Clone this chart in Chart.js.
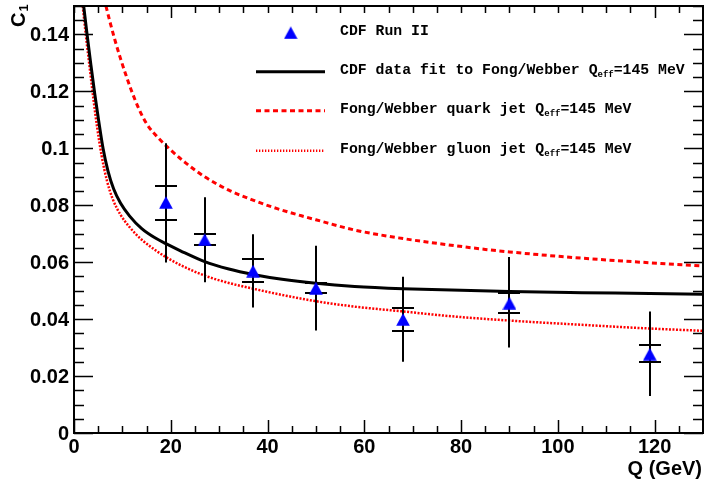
<!DOCTYPE html>
<html><head><meta charset="utf-8">
<script src="https://cdn.jsdelivr.net/npm/chart.js@4/dist/chart.umd.min.js"></script>
<style>html,body{margin:0;padding:0;background:#fff}#wrap{width:704px;height:485px}</style>
</head><body><div id="wrap"><canvas id="c" width="704" height="485"></canvas></div>
<script>
// ---- data ----
const Q      = [19, 27, 37, 50, 68, 90, 119];
const C1     = [0.0810, 0.0679, 0.0569, 0.0509, 0.0399, 0.0456, 0.0277];
const statLo = [0.0749, 0.0659, 0.0529, 0.0492, 0.0360, 0.0420, 0.0249];
const statHi = [0.0869, 0.0699, 0.0610, 0.0526, 0.0440, 0.0492, 0.0308];
const totLo  = [0.0599, 0.0530, 0.0441, 0.0360, 0.0250, 0.0300, 0.0130];
const totHi  = [0.1018, 0.0828, 0.0698, 0.0658, 0.0549, 0.0618, 0.0427];

const fitQ = [2.0, 2.7, 3.5, 4.3, 5.1, 6.0, 7.0, 8.2, 9.6, 11.5, 14, 17, 19, 22, 27, 32, 37, 43, 50, 58, 68, 78, 90, 105, 119, 130];
const fitC = [0.150, 0.140, 0.1292, 0.1190, 0.1097, 0.1000, 0.0922, 0.0857, 0.0808, 0.0762, 0.0718, 0.0683, 0.0665, 0.0640, 0.0602, 0.0576, 0.0557, 0.0540, 0.0526, 0.0515, 0.0507, 0.0502, 0.0497, 0.0493, 0.0490, 0.0487];

const quarkQ = [6.6, 7.5, 8.5, 9.6, 10.7, 11.8, 13.4, 15.1, 17.5, 19.6, 23, 27, 32, 37, 42, 47, 50, 58, 68, 76, 85, 90, 105, 119, 130];
const quarkC = [0.150, 0.1440, 0.1378, 0.1316, 0.1259, 0.1206, 0.1139, 0.1084, 0.1035, 0.1000, 0.0950, 0.0900, 0.0853, 0.0818, 0.0788, 0.0763, 0.0749, 0.0713, 0.0683, 0.0664, 0.0645, 0.0636, 0.0614, 0.0598, 0.0587];

const gluonQ = [1.8, 2.5, 3.3, 4.0, 4.8, 5.7, 6.8, 8.0, 9.6, 11.5, 14, 17, 19, 22, 27, 32, 37, 43, 50, 58, 68, 78, 90, 105, 119, 130];
const gluonC = [0.150, 0.139, 0.1275, 0.1175, 0.1072, 0.0975, 0.0887, 0.0822, 0.0767, 0.0723, 0.0679, 0.0640, 0.0618, 0.0590, 0.0553, 0.0527, 0.0507, 0.0485, 0.0463, 0.0444, 0.0427, 0.0410, 0.0395, 0.0380, 0.0367, 0.0359];

const xTickLabels = ['0', '20', '40', '60', '80', '100', '120'];
const yTickLabels = ['0', '0.02', '0.04', '0.06', '0.08', '0.1', '0.12', '0.14'];
const xTitle = 'Q (GeV)';
const yTitle = ['C', '1'];
const legendLabels = [
  [['CDF Run II', 0]],
  [['CDF data fit to Fong/Webber Q', 0], ['eff', 1], ['=145 MeV', 0]],
  [['Fong/Webber quark jet Q', 0], ['eff', 1], ['=145 MeV', 0]],
  [['Fong/Webber gluon jet Q', 0], ['eff', 1], ['=145 MeV', 0]]
];

// ---- marker ----
const tri = document.createElement('canvas');
tri.width = 14; tri.height = 13;
(function(){ const t = tri.getContext('2d'); t.fillStyle = '#0000ff';
  t.beginPath(); t.moveTo(7, 0.3); t.lineTo(13.8, 12.7); t.lineTo(0.2, 12.7); t.closePath(); t.fill(); })();

const BLUE = '#0000ff', RED = '#ff0000';
const pts = (xs, ys) => xs.map((v, i) => ({x: v, y: ys[i]}));

const rootPlugin = {
  id: 'rootStyle',
  beforeDatasetDraw(chart, args) {
    if (args.index !== 0) return;
    const {ctx, scales: {x, y}} = chart;
    ctx.save(); ctx.strokeStyle = '#000'; ctx.lineWidth = 2;
    for (let i = 0; i < Q.length; i++) {
      const px = Math.round(x.getPixelForValue(Q[i]));
      ctx.beginPath(); ctx.moveTo(px, y.getPixelForValue(totLo[i])); ctx.lineTo(px, y.getPixelForValue(totHi[i])); ctx.stroke();
      for (const v of [statLo[i], statHi[i]]) {
        const py = Math.round(y.getPixelForValue(v));
        ctx.beginPath(); ctx.moveTo(px - 11, py); ctx.lineTo(px + 11, py); ctx.stroke();
      }
    }
    ctx.restore();
  },
  afterDraw(chart) {
    const {ctx, chartArea: a, scales: {x, y}} = chart;
    ctx.save();
    // frame
    ctx.strokeStyle = '#000'; ctx.lineWidth = 2;
    ctx.strokeRect(a.left, a.top, a.right - a.left, a.bottom - a.top);
    // y ticks (left + right)
    ctx.lineWidth = 1.5;
    for (let k = 0; k <= 30; k++) {
      const v = k * 0.005; const py = Math.round(y.getPixelForValue(v)) + 0.5;
      const L = (k % 4 === 0) ? 19 : 10;
      ctx.beginPath(); ctx.moveTo(a.left, py); ctx.lineTo(a.left + L, py);
      ctx.moveTo(a.right, py); ctx.lineTo(a.right - L, py); ctx.stroke();
    }
    // x ticks (bottom + top)
    for (let q = 0; q <= 130; q += 5) {
      const px = Math.round(x.getPixelForValue(q)) + 0.5;
      const Lb = (q % 20 === 0) ? 13 : 7;
      const Lt = (q === 20 || q === 120) ? 12 : 7;
      ctx.beginPath(); ctx.moveTo(px, a.bottom); ctx.lineTo(px, a.bottom - Lb);
      ctx.moveTo(px, a.top); ctx.lineTo(px, a.top + Lt); ctx.stroke();
    }
    // tick labels
    ctx.fillStyle = '#000';
    ctx.font = 'bold 20px "Liberation Sans", Arial, sans-serif';
    ctx.textAlign = 'right'; ctx.textBaseline = 'middle';
    yTickLabels.forEach((t, i) => ctx.fillText(t, a.left - 5, y.getPixelForValue(i * 0.02) + 1));
    ctx.textAlign = 'center';
    xTickLabels.forEach((t, i) => ctx.fillText(t, x.getPixelForValue(i * 20), a.bottom + 14));
    // axis titles
    ctx.textAlign = 'right';
    ctx.fillText(xTitle, 702, 469);
    ctx.save(); ctx.translate(25, 27); ctx.rotate(-Math.PI / 2);
    ctx.textAlign = 'left'; ctx.textBaseline = 'alphabetic';
    ctx.fillText(yTitle[0], 0, 0);
    const cw = ctx.measureText(yTitle[0]).width;
    ctx.font = 'bold 13px "Liberation Sans", Arial, sans-serif';
    ctx.fillText(yTitle[1], cw + 1, 3);
    ctx.restore();
    // legend
    const rows = [32.7, 71.7, 110.7, 150.7];
    ctx.drawImage(tri, 290.7 - 7, rows[0] - 6.5);
    ctx.lineWidth = 3; ctx.strokeStyle = '#000'; ctx.setLineDash([]);
    ctx.beginPath(); ctx.moveTo(256, rows[1]); ctx.lineTo(325, rows[1]); ctx.stroke();
    ctx.strokeStyle = RED; ctx.setLineDash([5, 3.5]);
    ctx.beginPath(); ctx.moveTo(256, rows[2]); ctx.lineTo(325, rows[2]); ctx.stroke();
    ctx.lineWidth = 2.5; ctx.setLineDash([1.3, 1.7]);
    ctx.beginPath(); ctx.moveTo(256, rows[3]); ctx.lineTo(325, rows[3]); ctx.stroke();
    ctx.setLineDash([]);
    ctx.fillStyle = '#000'; ctx.textAlign = 'left'; ctx.textBaseline = 'middle';
    legendLabels.forEach((parts, r) => {
      let cx = 340; const cy = rows[r] - 1.5;
      parts.forEach(([txt, sub]) => {
        ctx.font = sub ? 'bold 9px "Liberation Mono", monospace' : 'bold 14.8px "Liberation Mono", monospace';
        ctx.fillText(txt, cx, sub ? cy + 5 : cy);
        cx += ctx.measureText(txt).width;
      });
    });
    ctx.restore();
  }
};

new Chart(document.getElementById('c'), {
  type: 'scatter',
  data: {
    datasets: [
      { label: 'CDF Run II', data: pts(Q, C1), pointStyle: tri, pointRadius: 7, backgroundColor: BLUE, borderColor: BLUE, showLine: false, order: 0 },
      { label: 'CDF data fit to Fong/Webber', data: pts(fitQ, fitC), showLine: true, borderColor: '#000', borderWidth: 3, pointRadius: 0, cubicInterpolationMode: 'monotone', order: 1 },
      { label: 'Fong/Webber quark jet', data: pts(quarkQ, quarkC), showLine: true, borderColor: RED, borderWidth: 3, borderDash: [5, 3.5], pointRadius: 0, cubicInterpolationMode: 'monotone', order: 2 },
      { label: 'Fong/Webber gluon jet', data: pts(gluonQ, gluonC), showLine: true, borderColor: RED, borderWidth: 2.5, borderDash: [2, 1.5], pointRadius: 0, cubicInterpolationMode: 'monotone', order: 3 }
    ]
  },
  options: {
    responsive: false, devicePixelRatio: 1, animation: false,
    layout: { autoPadding: false, padding: { left: 74, top: 6, right: 1, bottom: 52 } },
    scales: {
      x: { type: 'linear', min: 0, max: 130, display: false },
      y: { type: 'linear', min: 0, max: 0.15, display: false }
    },
    plugins: { legend: { display: false }, tooltip: { enabled: false } }
  },
  plugins: [rootPlugin]
});
</script></body></html>
